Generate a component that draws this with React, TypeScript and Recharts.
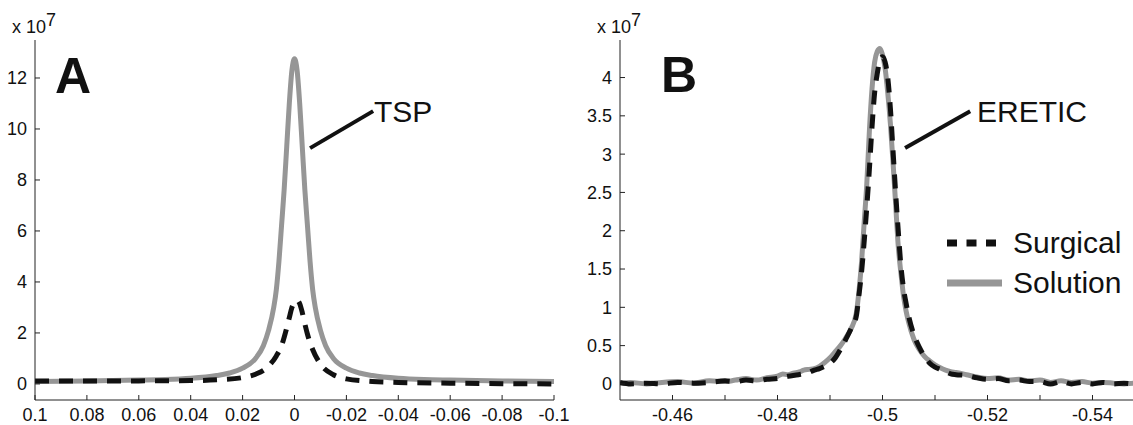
import { Legend, Line, LineChart, ReferenceLine, XAxis, YAxis } from 'recharts';

const FONT = '"Liberation Sans", Arial, Helvetica, sans-serif';
const INK = '#111';
const GRAY = '#969696';
const AXIS = '#222';

// Panel A: TSP reference peak. x in ppm (axis reversed), y in units of 1e7.
const A_X_TICKS = [0.1, 0.08, 0.06, 0.04, 0.02, 0, -0.02, -0.04, -0.06, -0.08, -0.1];
const A_Y_TICKS = [0, 2, 4, 6, 8, 10, 12];

const A_SOLUTION_X = [
  0.1, 0.08, 0.06, 0.05, 0.04, 0.03, 0.025, 0.02, 0.015, 0.012, 0.01, 0.008, 0.007, 0.006, 0.005,
  0.004, 0.003, 0.002, 0.001, 0, -0.001, -0.002, -0.003, -0.004, -0.005, -0.006, -0.007, -0.008,
  -0.01, -0.012, -0.015, -0.02, -0.025, -0.03, -0.04, -0.05, -0.06, -0.08, -0.1,
];
const A_SOLUTION_Y = [
  0.1, 0.12, 0.15, 0.17, 0.22, 0.33, 0.43, 0.62, 1.0, 1.5, 2.1, 3.0, 3.7, 4.8, 6.2, 7.6, 9.3, 11.0,
  12.3, 12.75, 12.3, 11.0, 9.3, 7.6, 6.2, 4.8, 3.7, 3.0, 2.1, 1.5, 1.0, 0.62, 0.43, 0.33, 0.22, 0.17,
  0.15, 0.12, 0.1,
];

const A_SURGICAL_X = [
  0.1, 0.08, 0.06, 0.04, 0.03, 0.02, 0.015, 0.01, 0.007, 0.005, 0.003, 0.002, 0.001, 0, -0.001,
  -0.002, -0.003, -0.004, -0.005, -0.007, -0.01, -0.015, -0.02, -0.03, -0.04, -0.06, -0.08, -0.1,
];
const A_SURGICAL_Y = [
  0.12, 0.12, 0.12, 0.13, 0.16, 0.25, 0.38, 0.7, 1.1, 1.5, 2.2, 2.6, 3.0, 3.2, 3.28, 3.15, 2.8, 2.35,
  1.95, 1.35, 0.78, 0.36, 0.2, 0.1, 0.06, 0.03, 0.01, 0,
];

// Panel B: ERETIC signal.
const B_X_TICKS = [-0.46, -0.47, -0.48, -0.49, -0.5, -0.51, -0.52, -0.53, -0.54];
const B_Y_TICKS = [0, 0.5, 1, 1.5, 2, 2.5, 3, 3.5, 4];

const B_SOLUTION_X = [
  -0.45, -0.452, -0.455, -0.458, -0.461, -0.464, -0.467, -0.47, -0.472, -0.474, -0.476, -0.478,
  -0.48, -0.481, -0.482, -0.483, -0.4843, -0.485, -0.486, -0.487, -0.488, -0.489, -0.49, -0.491,
  -0.492, -0.493, -0.494, -0.495, -0.4955, -0.496, -0.4965, -0.497, -0.4975, -0.498, -0.4985,
  -0.499, -0.4995, -0.5, -0.5005, -0.501, -0.5015, -0.502, -0.5025, -0.503, -0.5035, -0.504,
  -0.5045, -0.505, -0.506, -0.507, -0.508, -0.509, -0.51, -0.511, -0.512, -0.513, -0.514, -0.516,
  -0.518, -0.52, -0.522, -0.524, -0.526, -0.528, -0.53, -0.532, -0.534, -0.536, -0.538, -0.54,
  -0.542, -0.544, -0.546, -0.548, -0.55,
];
const B_SOLUTION_Y = [
  0.01, 0.02, 0.0, 0.02, 0.03, 0.01, 0.04, 0.03, 0.05, 0.07, 0.05, 0.08, 0.1, 0.13, 0.12, 0.14,
  0.16, 0.18, 0.19, 0.2, 0.23, 0.28, 0.34, 0.42, 0.5, 0.6, 0.72, 0.92, 1.2, 1.58, 2.1, 2.6, 3.3,
  3.85, 4.2, 4.34, 4.38, 4.3, 4.12, 3.8, 3.4, 2.9, 2.35, 1.8, 1.45, 1.15, 0.95, 0.8, 0.58, 0.45,
  0.36, 0.3, 0.25, 0.21, 0.18, 0.16, 0.15, 0.12, 0.09, 0.07, 0.08, 0.05, 0.06, 0.04, 0.05, 0.02,
  0.04, 0.02, 0.03, 0.01, 0.02, 0.01, 0.0, 0.01, 0.01,
];

const B_SURGICAL_X = [
  -0.45, -0.452, -0.455, -0.458, -0.461, -0.464, -0.467, -0.47, -0.472, -0.474, -0.476, -0.478,
  -0.48, -0.482, -0.484, -0.486, -0.487, -0.488, -0.489, -0.49, -0.491, -0.492, -0.493, -0.494,
  -0.495, -0.4955, -0.496, -0.4965, -0.497, -0.4975, -0.498, -0.4985, -0.499, -0.4995, -0.5,
  -0.5005, -0.501, -0.5015, -0.502, -0.5025, -0.503, -0.5035, -0.504, -0.5045, -0.505, -0.506,
  -0.507, -0.508, -0.509, -0.51, -0.511, -0.512, -0.513, -0.514, -0.516, -0.518, -0.52, -0.522,
  -0.524, -0.526, -0.528, -0.53, -0.532, -0.534, -0.536, -0.538, -0.54, -0.542, -0.544, -0.546,
  -0.548, -0.55,
];
const B_SURGICAL_Y = [
  0.02, 0.0, 0.01, 0.0, 0.02, 0.01, 0.02, 0.04, 0.03, 0.05, 0.04, 0.06, 0.07, 0.1, 0.12, 0.15,
  0.18, 0.2, 0.23, 0.27, 0.34, 0.45, 0.58, 0.72, 0.88, 1.15, 1.45, 1.85, 2.3, 2.8, 3.35, 3.8, 4.05,
  4.22, 4.27, 4.2, 4.0, 3.6, 3.05, 2.5, 2.0, 1.55, 1.25, 1.05, 0.88, 0.64, 0.48, 0.36, 0.27, 0.22,
  0.19, 0.16, 0.13, 0.12, 0.11, 0.08, 0.06, 0.07, 0.04, 0.05, 0.03, 0.03, 0.0, 0.03, 0.0, 0.02, 0.0,
  0.02, 0.0, 0.01, 0.0, 0.01,
];

const LEGEND_NAMES = ['Surgical', 'Solution'];

const zip = (xs: number[], ys: number[]) => xs.map((x, i) => ({ x, y: ys[i] }));

const aSolution = zip(A_SOLUTION_X, A_SOLUTION_Y);
const aSurgical = zip(A_SURGICAL_X, A_SURGICAL_Y);
const bSolution = zip(B_SOLUTION_X, B_SOLUTION_Y);
const bSurgical = zip(B_SURGICAL_X, B_SURGICAL_Y);

const tick = { fontSize: 18, fill: INK, fontFamily: FONT };
const axisLine = { stroke: AXIS, strokeWidth: 1 };
const tickLine = { stroke: AXIS, strokeWidth: 1 };
const blank = () => '';
// panel B has minor ticks every 0.01 but labels only every 0.02
const evenOnly = (v: number) => (Math.round(v * 100) % 2 === 0 ? String(v) : '');

const DASH = '14 10';

function SampleLegend() {
  return (
    <div style={{ fontFamily: FONT, fontSize: 30, color: INK }}>
      {LEGEND_NAMES.map((name) => {
        const surgical = name === 'Surgical';
        return (
          <div key={name} style={{ display: 'flex', alignItems: 'center', height: 40 }}>
            <svg width={56} height={40} style={{ display: 'block' }}>
              <line
                x1={0}
                x2={surgical ? 50 : 55}
                y1={20}
                y2={20}
                stroke={surgical ? INK : GRAY}
                strokeWidth={7}
                strokeDasharray={surgical ? '10 9.5' : undefined}
              />
            </svg>
            <span style={{ marginLeft: 10, lineHeight: '40px', whiteSpace: 'nowrap' }}>{name}</span>
          </div>
        );
      })}
    </div>
  );
}

export default function App() {
  return (
    <div
      style={{
        position: 'absolute',
        left: 0,
        top: 0,
        width: 1133,
        height: 425,
        overflow: 'hidden',
        background: '#fff',
        fontFamily: FONT,
      }}
    >
      {/* Panel A */}
      <div style={{ position: 'absolute', left: 0, top: 0 }}>
        <LineChart width={600} height={425} margin={{ top: 40, right: 46, bottom: 0, left: 0 }}>
          <XAxis
            xAxisId="b"
            type="number"
            dataKey="x"
            domain={[-0.1, 0.1]}
            reversed
            allowDataOverflow
            ticks={A_X_TICKS}
            interval={0}
            height={25}
            tickSize={-5}
            tickMargin={13}
            tick={tick}
            axisLine={axisLine}
            tickLine={tickLine}
          />
          <XAxis
            xAxisId="t"
            orientation="top"
            type="number"
            dataKey="x"
            domain={[-0.1, 0.1]}
            reversed
            allowDataOverflow
            ticks={A_X_TICKS}
            interval={0}
            height={0}
            tickSize={-5}
            tickFormatter={blank}
            axisLine={axisLine}
            tickLine={tickLine}
          />
          <YAxis
            yAxisId="l"
            type="number"
            dataKey="y"
            domain={[-0.63, 13.49]}
            allowDataOverflow
            ticks={A_Y_TICKS}
            interval={0}
            width={35}
            tickSize={-5}
            tickMargin={13}
            tick={tick}
            axisLine={axisLine}
            tickLine={tickLine}
          />
          <YAxis
            yAxisId="r"
            orientation="right"
            type="number"
            dataKey="y"
            domain={[-0.63, 13.49]}
            allowDataOverflow
            ticks={A_Y_TICKS}
            interval={0}
            width={0}
            tickSize={-5}
            tickFormatter={blank}
            axisLine={axisLine}
            tickLine={tickLine}
          />
          <Line
            xAxisId="b"
            yAxisId="l"
            data={aSolution}
            dataKey="y"
            name="Solution"
            type="monotone"
            stroke={GRAY}
            strokeWidth={5}
            dot={false}
            activeDot={false}
            isAnimationActive={false}
          />
          <Line
            xAxisId="b"
            yAxisId="l"
            data={aSurgical}
            dataKey="y"
            name="Surgical"
            type="monotone"
            stroke={INK}
            strokeWidth={5}
            strokeDasharray={DASH}
            dot={false}
            activeDot={false}
            isAnimationActive={false}
          />
          <ReferenceLine
            xAxisId="b"
            yAxisId="l"
            segment={[
              { x: -0.006, y: 9.25 },
              { x: -0.0303, y: 10.7 },
            ]}
            stroke={INK}
            strokeWidth={4}
          />
        </LineChart>
      </div>

      {/* Panel B (right edge cropped like the source figure) */}
      <div style={{ position: 'absolute', left: 560, top: 0 }}>
        <LineChart width={590} height={425} margin={{ top: 40, right: 5, bottom: 0, left: 0 }}>
          <XAxis
            xAxisId="b"
            type="number"
            dataKey="x"
            domain={[-0.55, -0.45]}
            reversed
            allowDataOverflow
            ticks={B_X_TICKS}
            interval={0}
            height={25}
            tickSize={-5}
            tickMargin={13}
            tickFormatter={evenOnly}
            tick={tick}
            axisLine={axisLine}
            tickLine={tickLine}
          />
          <XAxis
            xAxisId="t"
            orientation="top"
            type="number"
            dataKey="x"
            domain={[-0.55, -0.45]}
            reversed
            allowDataOverflow
            ticks={B_X_TICKS}
            interval={0}
            height={0}
            tickSize={-5}
            tickFormatter={blank}
            axisLine={axisLine}
            tickLine={tickLine}
          />
          <YAxis
            yAxisId="l"
            type="number"
            dataKey="y"
            domain={[-0.21, 4.49]}
            allowDataOverflow
            ticks={B_Y_TICKS}
            interval={0}
            width={60}
            tickSize={-5}
            tickMargin={13}
            tick={tick}
            axisLine={axisLine}
            tickLine={tickLine}
          />
          <Line
            xAxisId="b"
            yAxisId="l"
            data={bSolution}
            dataKey="y"
            name="Solution"
            type="monotone"
            stroke={GRAY}
            strokeWidth={5}
            dot={false}
            activeDot={false}
            isAnimationActive={false}
          />
          <Line
            xAxisId="b"
            yAxisId="l"
            data={bSurgical}
            dataKey="y"
            name="Surgical"
            type="monotone"
            stroke={INK}
            strokeWidth={5}
            strokeDasharray={DASH}
            dot={false}
            activeDot={false}
            isAnimationActive={false}
          />
          <ReferenceLine
            xAxisId="b"
            yAxisId="l"
            segment={[
              { x: -0.5043, y: 3.08 },
              { x: -0.5167, y: 3.56 },
            ]}
            stroke={INK}
            strokeWidth={4}
          />
          <Legend
            layout="vertical"
            align="center"
            verticalAlign="middle"
            content={<SampleLegend />}
            wrapperStyle={{ left: 387, top: 223, width: 200, height: 80 }}
          />
        </LineChart>
      </div>

      {/* panel letters, exponent labels and callout text */}
      <svg
        width={1133}
        height={425}
        style={{ position: 'absolute', left: 0, top: 0, pointerEvents: 'none' }}
        fontFamily={FONT}
        fill={INK}
      >
        <text x={12} y={33} fontSize={18}>
          x 10<tspan dy={-7}>7</tspan>
        </text>
        <text x={597} y={33} fontSize={18}>
          x 10<tspan dy={-7}>7</tspan>
        </text>
        <text x={55} y={93} fontSize={50} fontWeight="bold">
          A
        </text>
        <text x={661} y={92} fontSize={50} fontWeight="bold">
          B
        </text>
        <text x={374} y={122} fontSize={30}>
          TSP
        </text>
        <text x={977} y={122} fontSize={30}>
          ERETIC
        </text>
      </svg>
    </div>
  );
}
